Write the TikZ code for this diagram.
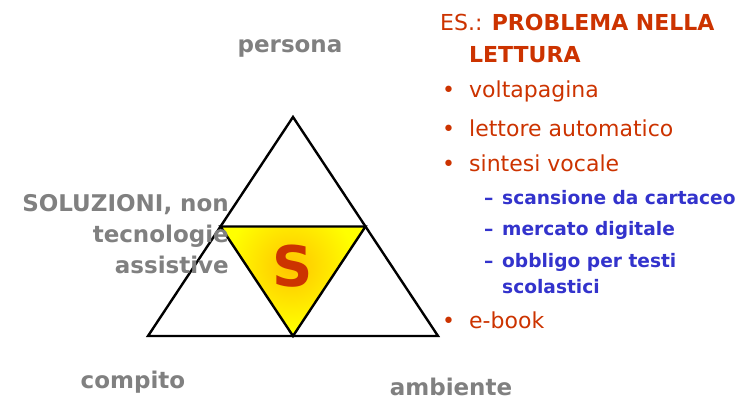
\documentclass[tikz,border=0pt]{standalone}
\usepackage{fontspec}
\setmainfont{DejaVu Sans}
\usetikzlibrary{positioning,calc}
\definecolor{labelgray}{RGB}{128,128,128}
\definecolor{textred}{RGB}{204,51,0}
\definecolor{subblue}{RGB}{51,51,204}
\definecolor{sunyellow}{RGB}{255,255,0}
\definecolor{sunorange}{RGB}{255,196,0}

\begin{document}
\begin{tikzpicture}[x=1pt, y=-1pt,
    every node/.style={inner sep=0pt},
    side/.style={draw=black, line width=2.4pt, line join=miter},
    corner/.style={font=\bfseries\fontsize{23}{31}\selectfont, text=labelgray},
    item/.style={anchor=base west, font=\fontsize{22}{26}\selectfont, text=textred},
    subitem/.style={anchor=base west, font=\bfseries\fontsize{18.6}{20}\selectfont, text=subblue}
]
\useasboundingbox (0,0) rectangle (744,400);
% triangle corners
\coordinate (top) at (293,117);
\coordinate (bl) at (148,336);
\coordinate (br) at (438,336);
\coordinate (ml) at ($(top)!0.5!(bl)$);
\coordinate (mr) at ($(top)!0.5!(br)$);
\coordinate (mb) at ($(bl)!0.5!(br)$);

% yellow centre
\begin{scope}
    \clip (ml) -- (mr) -- (mb) -- cycle;
    \fill[sunyellow] (ml) -- (mr) -- (mb) -- cycle;
    \shade[inner color=sunorange, outer color=sunyellow] (291,266) circle (64);
\end{scope}
\draw[side] (top) -- (br) -- (bl) -- cycle;
\draw[side] (ml) -- (mr) -- (mb) -- cycle;
\node[font=\bfseries\fontsize{56}{56}\selectfont, text=textred] (s) at (293,266) {S};

% labels at the corners
\node[corner] (persona) at (290,48) {persona};
\node[corner, align=right, anchor=east] (soluzioni) at (229,234) {SOLUZIONI, non\\tecnologie\\assistive};
\node[corner] (compito) at (133,382) {compito};
\node[corner] (ambiente) at (451,387) {ambiente};

% example list
\node[item] (es) at (440,30) {ES.: \textbf{PROBLEMA NELLA}};
\node[item] (lettura) at (469,62) {\textbf{LETTURA}};
\node[item] (b1) at (442,97) {•};
\node[item] (volta) at (469,97) {voltapagina};
\node[item] (b2) at (442,136) {•};
\node[item] (lettore) at (469,136) {lettore automatico};
\node[item] (b3) at (442,171) {•};
\node[item] (sintesi) at (469,171) {sintesi vocale};
\node[subitem] (d1) at (484,204) {–};
\node[subitem] (scans) at (502,204) {scansione da cartaceo};
\node[subitem] (d2) at (484,235) {–};
\node[subitem] (merc) at (502,235) {mercato digitale};
\node[subitem] (d3) at (484,267) {–};
\node[subitem] (obbl) at (502,267) {obbligo per testi};
\node[subitem] (scol) at (502,293) {scolastici};
\node[item] (b4) at (442,328) {•};
\node[item] (ebook) at (469,328) {e-book};
\end{tikzpicture}
\end{document}
